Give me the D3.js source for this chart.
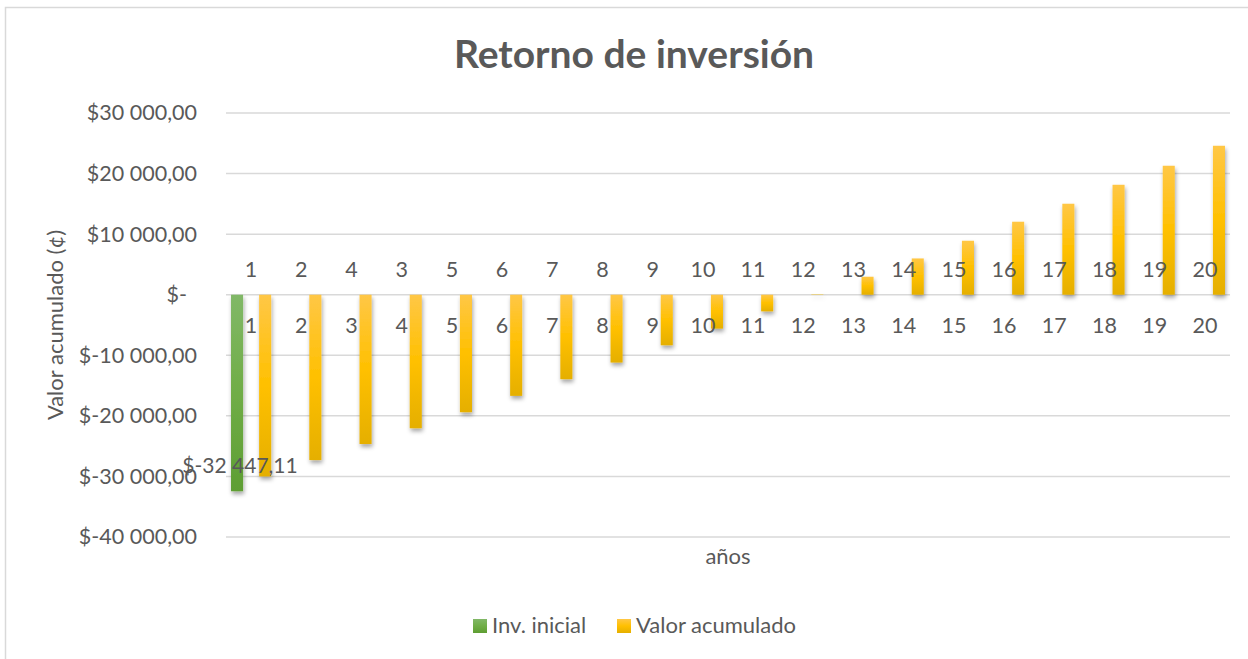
<!DOCTYPE html>
<html>
<head>
<meta charset="utf-8">
<script src="https://cdn.jsdelivr.net/npm/d3@7"></script>
<style>
	body { margin: 0; background: #fff; }
	svg text { font-family: Lato, "Open Sans", sans-serif; fill: #595959; }
</style>
</head>
<body>
<svg id="chart" width="1248" height="659"></svg>
<script>
	//chart data
var years = d3.range(1, 21);
var topLabels = [1, 2, 4, 3, 5, 6, 7, 8, 9, 10, 11, 12, 13, 14, 15, 16, 17, 18, 19, 20];
var bottomLabels = [1, 2, 3, 4, 5, 6, 7, 8, 9, 10, 11, 12, 13, 14, 15, 16, 17, 18, 19, 20];
var seriesNames = ['Inv. inicial', 'Valor acumulado'];
var initialInv = [-32447.11];
var accumValue = [-30000, -27300, -24650, -22050, -19400, -16700, -13950, -11200, -8350, -5600,
	-2750, 60, 2970, 5990, 8910, 12050, 15020, 18150, 21290, 24590];
var yTicks = [-40000, -30000, -20000, -10000, 0, 10000, 20000, 30000];

var svg = d3.select('#chart');

	//number format like "$-10 000,00"
var locale = d3.formatLocale({ decimal: ',', thousands: ' ', grouping: [3], currency: ['$', ''], minus: '-' });
var money = locale.format(',.2f');
function fmt(d) {
	return d === 0 ? '$-' : '$' + money(d);
}

	//gradients and shadow
var defs = svg.append('defs');
function addGradient(id, c1, c2, c3) {
	var g = defs.append('linearGradient').attr('id', id).attr('x1', 0).attr('y1', 0).attr('x2', 0).attr('y2', 1);
	g.append('stop').attr('offset', '0%').attr('stop-color', c1);
	g.append('stop').attr('offset', '50%').attr('stop-color', c2);
	g.append('stop').attr('offset', '100%').attr('stop-color', c3);
}
addGradient('gYellow', '#FFC746', '#FFC000', '#E5AF00');
addGradient('gGreen', '#81B867', '#70AD47', '#5E9E33');

var shadow = defs.append('filter').attr('id', 'shadow').attr('x', '-50%').attr('y', '-20%').attr('width', '200%').attr('height', '140%');
shadow.append('feDropShadow').attr('dx', 1).attr('dy', 3).attr('stdDeviation', 2)
	.attr('flood-color', '#000').attr('flood-opacity', 0.35);

	//outer border
svg.append('rect').attr('x', 5.5).attr('y', 7.5).attr('width', 1260).attr('height', 700)
	.attr('fill', 'none').attr('stroke', '#D9D9D9').attr('stroke-width', 1.5);

	//scales
var x0 = d3.scaleBand().domain(years).range([226, 1230]).paddingInner(0.2).paddingOuter(0.1);
var x1 = d3.scaleBand().domain(seriesNames).range([0, x0.bandwidth()]).paddingInner(0.5714);
var y = d3.scaleLinear().domain([-40000, 30000]).range([537, 113]);

	//gridlines + y labels
var yAxis = d3.axisLeft(y).tickValues(yTicks).tickFormat(fmt).tickSize(0).tickPadding(29);
var yG = svg.append('g').attr('transform', 'translate(226,0)').call(yAxis);
yG.select('.domain').remove();
yG.selectAll('text').style('font-size', '21.5px').attr('fill', '#595959')
	.attr('dx', function(d) { return d === 0 ? -10 : 0; });

svg.append('g').selectAll('line').data(yTicks).enter().append('line')
	.attr('x1', 226).attr('x2', 1230)
	.attr('y1', function(d) { return y(d); }).attr('y2', function(d) { return y(d); })
	.attr('stroke', '#D9D9D9').attr('stroke-width', 1.5);

	//bars
var bars = svg.append('g').attr('filter', 'url(#shadow)');

bars.selectAll('.bar-green').data(initialInv).enter().append('rect')
	.attr('class', 'bar-green')
	.attr('x', function(d, i) { return x0(years[i]) + x1(seriesNames[0]); })
	.attr('width', x1.bandwidth())
	.attr('y', function(d) { return y(Math.max(0, d)); })
	.attr('height', function(d) { return Math.abs(y(d) - y(0)); })
	.attr('fill', 'url(#gGreen)');

bars.selectAll('.bar-yellow').data(accumValue).enter().append('rect')
	.attr('class', 'bar-yellow')
	.attr('x', function(d, i) { return x0(years[i]) + x1(seriesNames[1]); })
	.attr('width', x1.bandwidth())
	.attr('y', function(d) { return y(Math.max(0, d)); })
	.attr('height', function(d) { return Math.abs(y(d) - y(0)); })
	.attr('fill', 'url(#gYellow)');

	//category labels (two rows)
svg.append('g').selectAll('text').data(topLabels).enter().append('text')
	.attr('x', function(d, i) { return x0(years[i]) + x0.bandwidth() / 2; })
	.attr('y', y(0) - 18)
	.attr('text-anchor', 'middle').style('font-size', '21.5px')
	.text(function(d) { return d; });

svg.append('g').selectAll('text').data(bottomLabels).enter().append('text')
	.attr('x', function(d, i) { return x0(years[i]) + x0.bandwidth() / 2; })
	.attr('y', y(0) + 38)
	.attr('text-anchor', 'middle').style('font-size', '21.5px')
	.text(function(d) { return d; });

	//data label for initial investment
svg.selectAll('.lbl').data(initialInv).enter().append('text')
	.attr('class', 'lbl')
	.attr('x', function(d, i) { return x0(years[i]) + x1(seriesNames[0]) + x1.bandwidth() / 2 + 3; })
	.attr('y', function(d) { return y(d) - 18; })
	.attr('text-anchor', 'middle').style('font-size', '21px').attr('fill', '#404040')
	.text(fmt);

	//titles
svg.append('text').attr('x', 634).attr('y', 68).attr('text-anchor', 'middle')
	.style('font-size', '39px').style('font-weight', 'bold')
	.text('Retorno de inversión');

svg.append('text').attr('transform', 'translate(63,' + ((y.range()[0] + y.range()[1]) / 2) + ') rotate(-90)')
	.attr('text-anchor', 'middle').style('font-size', '22px')
	.text('Valor acumulado (¢)');

svg.append('text').attr('x', (226 + 1230) / 2).attr('y', 564).attr('text-anchor', 'middle')
	.style('font-size', '22px').text('años');

	//legend
var legendColors = ['url(#gGreen)', 'url(#gYellow)'];
var legendX = [473, 617];
var legend = svg.append('g').selectAll('g').data(seriesNames).enter().append('g')
	.attr('transform', function(d, i) { return 'translate(' + legendX[i] + ',619)'; });
legend.append('rect').attr('width', 14).attr('height', 14)
	.attr('fill', function(d, i) { return legendColors[i]; });
legend.append('text').attr('x', 19).attr('y', 14).style('font-size', '22px')
	.text(function(d) { return d; });
</script>
</body>
</html>
